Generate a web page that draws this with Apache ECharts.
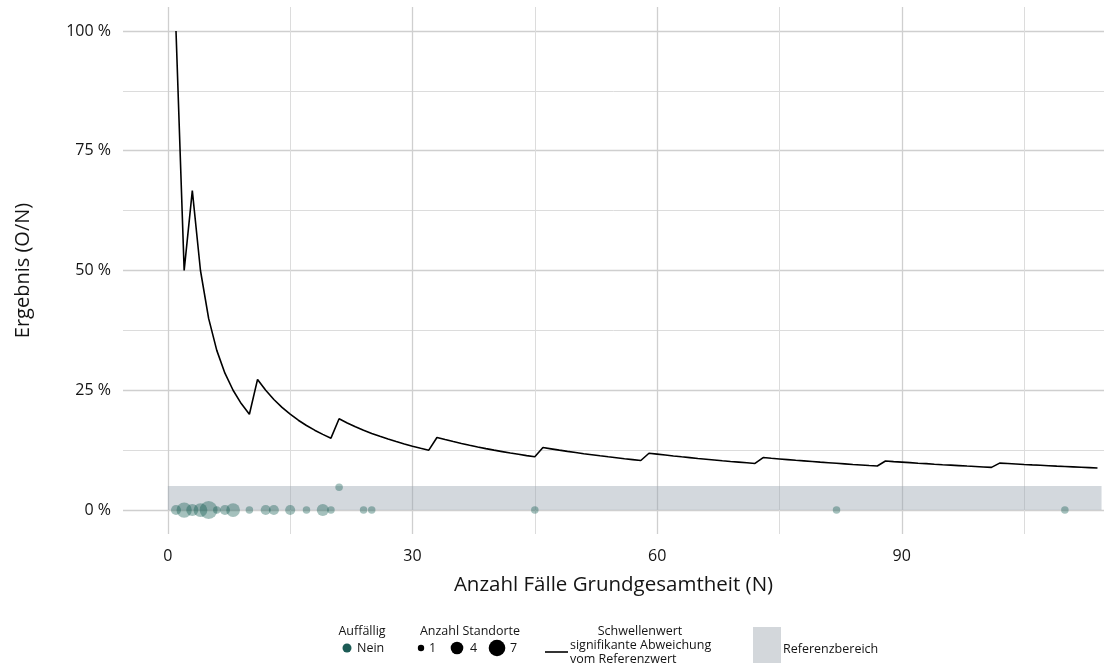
<!DOCTYPE html>
<html>
<head>
<meta charset="utf-8">
<script src="https://cdn.jsdelivr.net/npm/echarts@6/dist/echarts.min.js"></script>
<style>
html,body{margin:0;padding:0;background:#fff;}
#chart{width:1104px;height:664px;}
</style>
</head>
<body>
<div id="chart"></div>
<script>
// Threshold ("Schwellenwert") in %, for N = 1 .. 114
var thresholdFirstN = 1;
var thresholdPct = [
  100, 50, 66.67, 50, 40, 33.33, 28.57, 25, 22.22, 20,
  27.27, 25, 23.08, 21.43, 20, 18.75, 17.65, 16.67, 15.79, 15,
  19.05, 18.18, 17.39, 16.67, 16, 15.38, 14.81, 14.29, 13.79, 13.33,
  12.90, 12.5, 15.15, 14.71, 14.29, 13.89, 13.51, 13.16, 12.82, 12.5,
  12.20, 11.90, 11.63, 11.36, 11.11, 13.04, 12.77, 12.5, 12.24, 12,
  11.76, 11.54, 11.32, 11.11, 10.91, 10.71, 10.53, 10.34, 11.86, 11.67,
  11.48, 11.29, 11.11, 10.94, 10.77, 10.61, 10.45, 10.29, 10.14, 10,
  9.86, 9.72, 10.96, 10.81, 10.67, 10.53, 10.39, 10.26, 10.13, 10,
  9.88, 9.76, 9.64, 9.52, 9.41, 9.30, 9.20, 10.23, 10.11, 10,
  9.89, 9.78, 9.68, 9.57, 9.47, 9.38, 9.28, 9.18, 9.09, 9,
  8.91, 9.80, 9.71, 9.62, 9.52, 9.43, 9.35, 9.26, 9.17, 9.09,
  9.01, 8.93, 8.85, 8.77
];

// Standorte points
var pointN     = [1, 2, 3, 4, 5, 6, 7, 8, 10, 12, 13, 15, 17, 19, 20, 21, 24, 25, 45, 82, 110];
var pointPct   = [0, 0, 0, 0, 0, 0, 0, 0, 0,  0,  0,  0,  0,  0,  0,  4.76, 0, 0, 0, 0, 0];
var pointCount = [2, 5, 3, 4, 7, 1, 2, 4, 1,  2,  2,  2,  1,  3,  1,  1,  1,  1,  1,  1,  1];

// Reference range (%), and its x extent
var refRangePct = [0, 5];
var refRangeN = [0, 114.5];

// Axis ticks
var xMajorTicks = [0, 30, 60, 90];
var xMinorTicks = [15, 45, 75, 105];
var yMajorTicks = [0, 25, 50, 75, 100];
var yMinorTicks = [12.5, 37.5, 62.5, 87.5];

var xRange = [-5.5, 114.8];
var yRange = [-5, 105];

var FONT = '"Open Sans", "DejaVu Sans", sans-serif';
var TXT = '#141414';
var majorGrid = '#cfcfcf';
var minorGrid = '#dcdcdc';
var pointColor = 'rgba(12, 86, 76, 0.46)';

var thresholdData = thresholdPct.map(function (v, i) { return [thresholdFirstN + i, v]; });
var pointData = pointN.map(function (n, i) { return [n, pointPct[i], pointCount[i]]; });

var chart = echarts.init(document.getElementById('chart'), null, {renderer: 'canvas'});

function sizeFor(count) { return 6.3 * Math.sqrt(count) + 1.2; }

var option = {
  animation: false,
  backgroundColor: '#ffffff',
  grid: {left: 123, right: 0, top: 7, bottom: 130, containLabel: false},
  xAxis: [
    {
      type: 'value', min: xRange[0], max: xRange[1],
      name: 'Anzahl Fälle Grundgesamtheit (N)',
      nameLocation: 'middle', nameGap: 41,
      nameTextStyle: {fontFamily: FONT, fontSize: 20.5, color: TXT},
      axisLine: {show: false}, axisTick: {show: false, customValues: xMajorTicks},
      axisLabel: {customValues: xMajorTicks, fontFamily: FONT, fontSize: 16, color: TXT, margin: 14},
      splitLine: {show: true, lineStyle: {color: majorGrid, width: 1.3}}
    },
    {
      type: 'value', min: xRange[0], max: xRange[1], position: 'bottom',
      axisLine: {show: false}, axisTick: {show: false, customValues: xMinorTicks},
      axisLabel: {show: false, customValues: xMinorTicks},
      splitLine: {show: true, lineStyle: {color: minorGrid, width: 1}}
    }
  ],
  yAxis: [
    {
      type: 'value', min: yRange[0], max: yRange[1],
      name: 'Ergebnis (O/N)',
      nameLocation: 'middle', nameGap: 90,
      nameTextStyle: {fontFamily: FONT, fontSize: 20, color: TXT},
      axisLine: {show: false}, axisTick: {show: false, customValues: yMajorTicks},
      axisLabel: {customValues: yMajorTicks, fontFamily: FONT, fontSize: 16, color: TXT, margin: 12,
        formatter: function (v) { return v + ' %'; }},
      splitLine: {show: true, lineStyle: {color: majorGrid, width: 1.3}}
    },
    {
      type: 'value', min: yRange[0], max: yRange[1], position: 'left',
      axisLine: {show: false}, axisTick: {show: false, customValues: yMinorTicks},
      axisLabel: {show: false, customValues: yMinorTicks},
      splitLine: {show: true, lineStyle: {color: minorGrid, width: 1}}
    }
  ],
  series: [
    {
      name: 'Referenzbereich', type: 'line', data: [], xAxisIndex: 0, yAxisIndex: 0,
      markArea: {
        silent: true,
        itemStyle: {color: 'rgba(150, 162, 174, 0.42)'},
        data: [[{xAxis: refRangeN[0], yAxis: refRangePct[0]}, {xAxis: refRangeN[1], yAxis: refRangePct[1]}]]
      },
      z: 1
    },
    {
      name: 'Standorte', type: 'scatter', data: pointData, xAxisIndex: 0, yAxisIndex: 0,
      symbolSize: function (d) { return sizeFor(d[2]); },
      itemStyle: {color: pointColor},
      z: 3
    },
    {
      name: 'Schwellenwert', type: 'line', data: thresholdData, xAxisIndex: 0, yAxisIndex: 0,
      showSymbol: false, symbol: 'none',
      lineStyle: {color: '#000000', width: 1.6},
      z: 4
    }
  ],
  graphic: [
    {type: 'text', x: 362, y: 631, style: {text: 'Auffällig', font: '12.5px ' + FONT, fill: TXT, align: 'center', verticalAlign: 'middle'}},
    {type: 'circle', shape: {cx: 347, cy: 648, r: 4.5}, style: {fill: '#1c5b55'}},
    {type: 'text', x: 357, y: 648, style: {text: 'Nein', font: '12.5px ' + FONT, fill: TXT, verticalAlign: 'middle'}},

    {type: 'text', x: 470, y: 631, style: {text: 'Anzahl Standorte', font: '12.5px ' + FONT, fill: TXT, align: 'center', verticalAlign: 'middle'}},
    {type: 'circle', shape: {cx: 421, cy: 648, r: 3.2}, style: {fill: '#000'}},
    {type: 'text', x: 429, y: 648, style: {text: '1', font: '12.5px ' + FONT, fill: TXT, verticalAlign: 'middle'}},
    {type: 'circle', shape: {cx: 457, cy: 648, r: 6.3}, style: {fill: '#000'}},
    {type: 'text', x: 470, y: 648, style: {text: '4', font: '12.5px ' + FONT, fill: TXT, verticalAlign: 'middle'}},
    {type: 'circle', shape: {cx: 497, cy: 648, r: 8.3}, style: {fill: '#000'}},
    {type: 'text', x: 510, y: 648, style: {text: '7', font: '12.5px ' + FONT, fill: TXT, verticalAlign: 'middle'}},

    {type: 'text', x: 640, y: 631, style: {text: 'Schwellenwert', font: '12.5px ' + FONT, fill: TXT, align: 'center', verticalAlign: 'middle'}},
    {type: 'line', shape: {x1: 545, y1: 652, x2: 568, y2: 652}, style: {stroke: '#000', lineWidth: 1.6}},
    {type: 'text', x: 570, y: 645, style: {text: 'signifikante Abweichung', font: '12.5px ' + FONT, fill: TXT, verticalAlign: 'middle'}},
    {type: 'text', x: 570, y: 659, style: {text: 'vom Referenzwert', font: '12.5px ' + FONT, fill: TXT, verticalAlign: 'middle'}},

    {type: 'rect', shape: {x: 753, y: 627, width: 28, height: 36}, style: {fill: '#d3d7db'}},
    {type: 'text', x: 783, y: 649, style: {text: 'Referenzbereich', font: '12.5px ' + FONT, fill: TXT, verticalAlign: 'middle'}}
  ]
};
chart.setOption(option);
</script>
</body>
</html>
